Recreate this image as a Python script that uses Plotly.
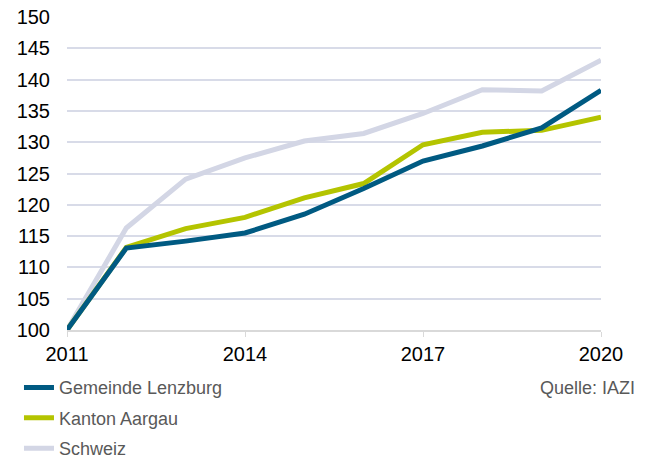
import plotly.graph_objects as go

years = [2011, 2012, 2013, 2014, 2015, 2016, 2017, 2018, 2019, 2020]
lenzburg = [100, 113.1, 114.2, 115.5, 118.5, 122.6, 127.0, 129.4, 132.3, 138.3]
aargau = [100, 113.2, 116.2, 118.0, 121.1, 123.4, 129.6, 131.6, 131.9, 134.0]
schweiz = [100, 116.3, 124.1, 127.5, 130.2, 131.4, 134.6, 138.4, 138.2, 143.1]
x_ticks = [2011, 2014, 2017, 2020]
series_names = ["Gemeinde Lenzburg", "Kanton Aargau", "Schweiz"]
colors = ["#005a82", "#b4c400", "#d3d6e5"]

font_family = "Liberation Sans, Arial, sans-serif"

W, H = 646, 451

fig = go.Figure()
order = [2, 1, 0]
data = [lenzburg, aargau, schweiz]
for i in order:
    fig.add_trace(go.Scatter(
        x=years, y=data[i], mode="lines", name=series_names[i],
        line=dict(color=colors[i], width=5),
        legendgroup=series_names[i], legendrank=i + 1,
    ))

fig.update_layout(
    width=W, height=H,
    margin=dict(l=59, r=53, t=9, b=129, autoexpand=False),
    paper_bgcolor="white", plot_bgcolor="white",
    font=dict(family=font_family, color="#000000"),
    showlegend=True,
    legend=dict(
        xref="container", yref="container",
        x=0.017, y=0.199, xanchor="left", yanchor="top",
        orientation="v", traceorder="grouped", tracegroupgap=4,
        font=dict(size=18, color="#595959", family=font_family),
        bgcolor="rgba(0,0,0,0)",
    ),
    annotations=[dict(
        text="Quelle: IAZI", xref="paper", yref="paper",
        x=(637 - 67) / 534, y=-(388 - 330) / 313, xanchor="right", yanchor="middle",
        showarrow=False, font=dict(size=18, color="#595959", family=font_family),
    )],
)
fig.update_xaxes(
    range=[2011, 2020], tickvals=x_ticks, ticktext=[str(t) for t in x_ticks],
    showgrid=False, zeroline=False, automargin=False,
    showline=True, linecolor="#d9d9d9", linewidth=2,
    ticks="outside", ticklen=5, tickcolor="#d9d9d9", tickwidth=1,
    tickfont=dict(size=20, color="#000000"),
)
fig.update_yaxes(
    range=[100, 150.01], dtick=5, tick0=100, automargin=False,
    showgrid=True, gridcolor="#d8dbe8", gridwidth=2,
    zeroline=False, showline=False,
    ticks="", ticklabelstandoff=16, ticklabeloverflow="allow",
    tickfont=dict(size=20, color="#000000"),
)

fig.write_html("out.html")
